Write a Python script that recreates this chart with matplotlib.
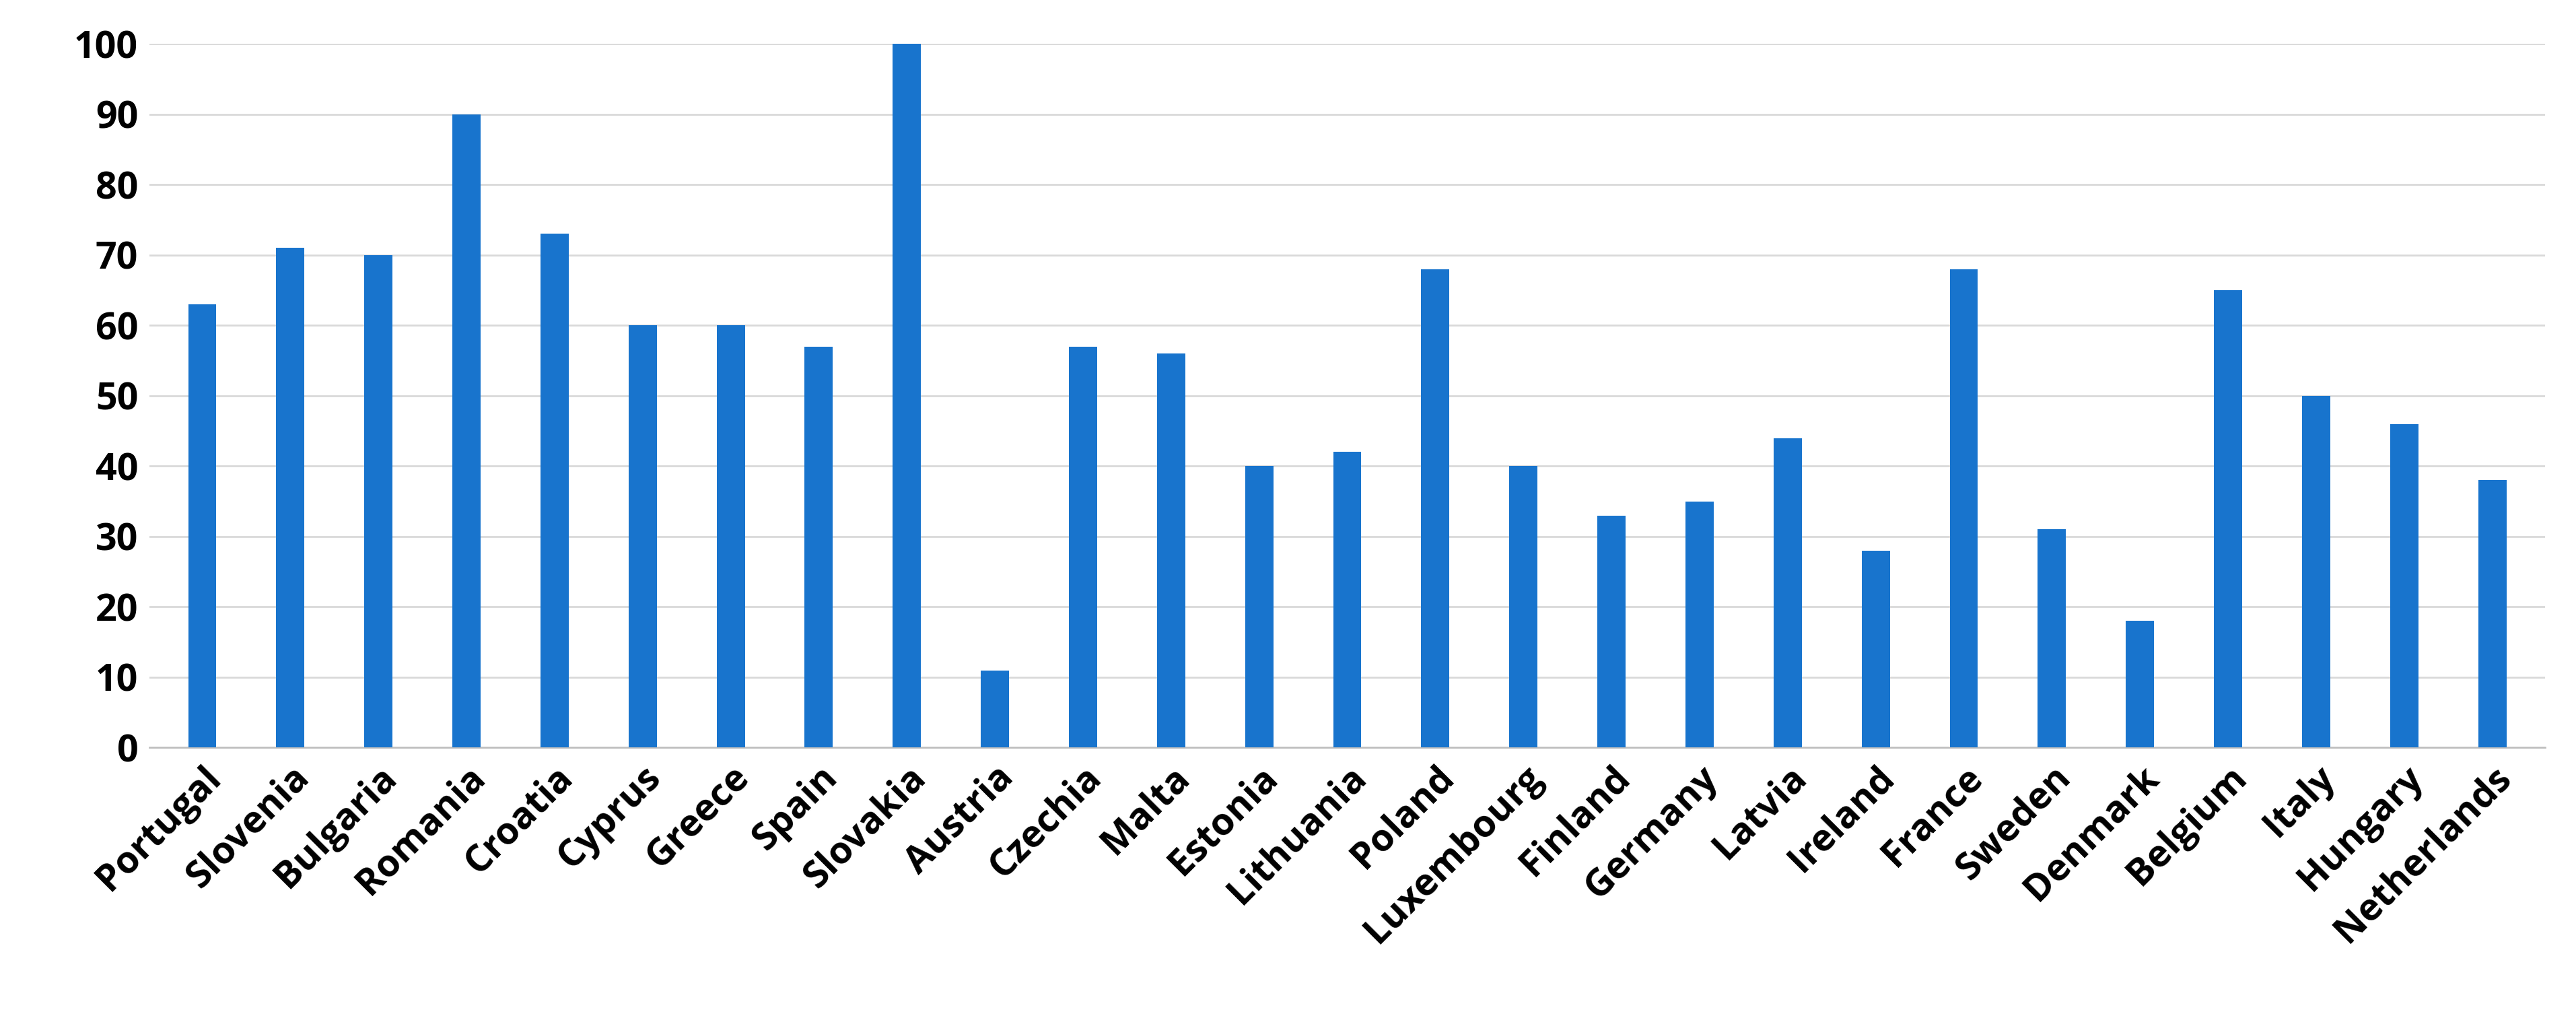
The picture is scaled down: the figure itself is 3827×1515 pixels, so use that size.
import matplotlib
matplotlib.use("Agg")
import matplotlib.pyplot as plt

countries = ["Portugal","Slovenia","Bulgaria","Romania","Croatia","Cyprus","Greece","Spain","Slovakia","Austria","Czechia","Malta","Estonia","Lithuania","Poland","Luxembourg","Finland","Germany","Latvia","Ireland","France","Sweden","Denmark","Belgium","Italy","Hungary","Netherlands"]
values = [63,71,70,90,73,60,60,57,100,11,57,56,40,42,68,40,33,35,44,28,68,31,18,65,50,46,38]
yticks = list(range(0, 101, 10))

plt.rcParams['font.family'] = ['Open Sans', 'DejaVu Sans']
fig = plt.figure(figsize=(38.27, 15.15), dpi=100)
ax = fig.add_axes([0.058, 0.267, 0.93, 0.69])
x = range(len(countries))
ax.bar(x, values, width=0.32, color='#1874CD', zorder=3)
ax.set_ylim(0, 100)
ax.set_xlim(-0.6, len(countries) - 0.4)
ax.set_yticks(yticks)
ax.set_yticklabels([str(v) for v in yticks], fontsize=40, fontweight='bold')
ax.set_xticks(list(x))
ax.set_xticklabels(countries, rotation=45, ha='right', rotation_mode='anchor', fontsize=40, fontweight='bold')
ax.grid(axis='y', color='#D9D9D9', linewidth=2, zorder=0)
for s in ['top', 'right', 'left']:
    ax.spines[s].set_visible(False)
ax.spines['bottom'].set_color('#BFBFBF')
ax.spines['bottom'].set_linewidth(2)
ax.tick_params(axis='both', length=0, pad=12)
ax.set_clip_on(False)
fig.savefig("out.png", dpi=100)
